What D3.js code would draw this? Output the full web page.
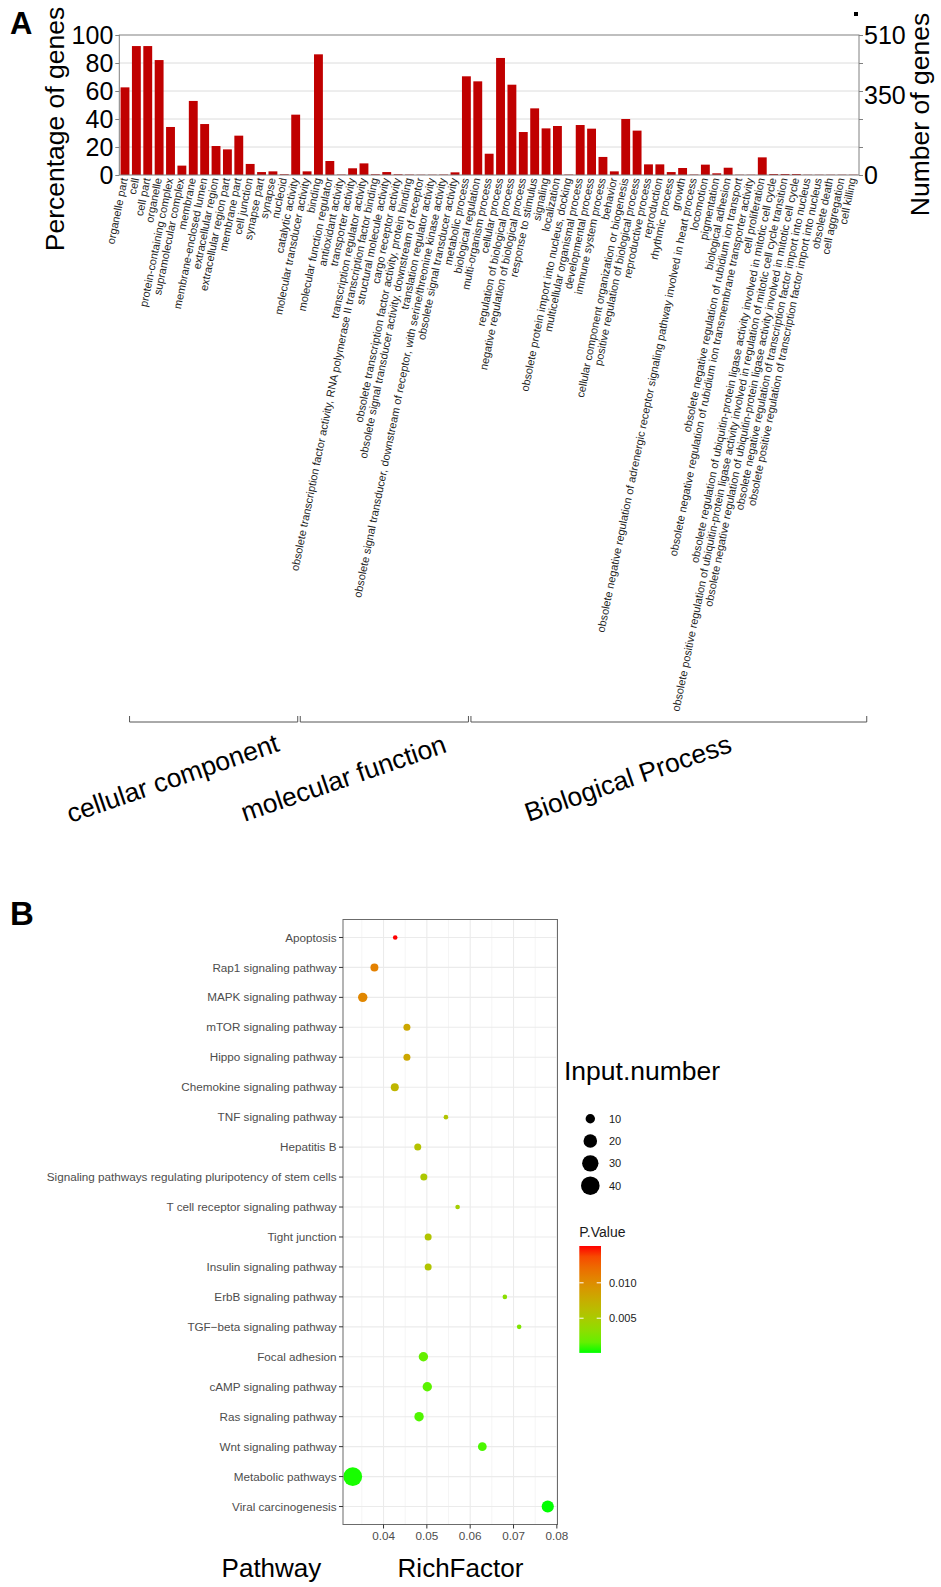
<!DOCTYPE html>
<html><head><meta charset="utf-8">
<script src="https://cdn.jsdelivr.net/npm/d3@7"></script>
<style>body{margin:0;background:#fff;} svg{display:block;font-family:"Liberation Sans",Arial,Helvetica,sans-serif;}</style>
</head><body><svg id="chart" width="941" height="1587"></svg>
<script>
// ---------- Panel A data ----------
const goTerms = [
"organelle part","cell","cell part","organelle","protein-containing complex","supramolecular complex","membrane","membrane-enclosed lumen","extracellular region","extracellular region part","membrane part","cell junction","synapse part","synapse","nucleoid",
"catalytic activity","molecular transducer activity","binding","molecular function regulator","antioxidant activity","transporter activity","transcription regulator activity","obsolete transcription factor activity, RNA polymerase II transcription factor binding","structural molecule activity","cargo receptor activity","obsolete transcription factor activity, protein binding","obsolete signal transducer activity, downstream of receptor","translation regulator activity","obsolete signal transducer, downstream of receptor, with serine/threonine kinase activity","obsolete signal transducer activity",
"metabolic process","biological regulation","multi-organism process","cellular process","regulation of biological process","negative regulation of biological process","response to stimulus","signaling","localization","obsolete protein import into nucleus, docking","multicellular organismal process","developmental process","immune system process","behavior","cellular component organization or biogenesis","positive regulation of biological process","reproductive process","reproduction","rhythmic process","growth","obsolete negative regulation of adrenergic receptor signaling pathway involved in heart process","locomotion","pigmentation","biological adhesion","obsolete negative regulation of rubidium ion transport","obsolete negative regulation of rubidium ion transmembrane transporter activity","cell proliferation","obsolete regulation of ubiquitin-protein ligase activity involved in mitotic cell cycle","obsolete positive regulation of ubiquitin-protein ligase activity involved in regulation of mitotic cell cycle transition","obsolete negative regulation of ubiquitin-protein ligase activity involved in mitotic cell cycle","obsolete negative regulation of transcription factor import into nucleus","obsolete positive regulation of transcription factor import into nucleus","obsolete death","cell aggregation","cell killing"
];
const goPercent = [
62.6,92.1,92.1,82.1,34.3,6.7,52.9,36.4,20.7,18.3,28.1,7.9,2.1,2.6,0.5,
43.1,2.6,86.2,10.0,0.3,4.8,8.3,0.5,2.1,0.5,0.3,0.2,0.2,0.3,1.9,
70.5,66.9,15.2,83.6,64.5,30.7,47.6,33.3,35.0,0.3,35.7,33.1,12.9,2.6,40.0,31.7,7.6,7.6,2.1,5.0,0.3,7.4,1.2,5.2,0.2,0.2,12.6,0.7,0.7,0.7,0.2,0.2,0.2,0.2,0.2
];
const goGroups = ["cellular component","molecular function","Biological Process"];
const goGroupSizes = [15,15,35];
const percentTicks = [0,20,40,60,80,100];
const geneTicks = [0,350,510];
const geneTickPercent = [0,56.6,100];

// ---------- Panel B data ----------
const pathways = ["Apoptosis","Rap1 signaling pathway","MAPK signaling pathway","mTOR signaling pathway","Hippo signaling pathway","Chemokine signaling pathway","TNF signaling pathway","Hepatitis B","Signaling pathways regulating pluripotency of stem cells","T cell receptor signaling pathway","Tight junction","Insulin signaling pathway","ErbB signaling pathway","TGF\u2212beta signaling pathway","Focal adhesion","cAMP signaling pathway","Ras signaling pathway","Wnt signaling pathway","Metabolic pathways","Viral carcinogenesis"];
const richFactor = [0.0427,0.0379,0.0352,0.0454,0.0454,0.0426,0.0544,0.0479,0.0493,0.0571,0.0503,0.0503,0.0680,0.0713,0.0492,0.0501,0.0482,0.0628,0.0329,0.0779];
const inputNumber = [6,8,10,7,7,8,6,7,7,6,7,7,6,6,10,10,10,9,41,16];
const pValue = [0.0152,0.0108,0.0104,0.0080,0.0080,0.0068,0.0056,0.0058,0.0052,0.0046,0.0056,0.0056,0.0032,0.0026,0.0016,0.0013,0.0010,0.0009,0.0002,0.0001];
const richTicks = [0.04,0.05,0.06,0.07,0.08];
const sizeBreaks = [10,20,30,40];
const pBreaks = [0.005,0.010];

const svg = d3.select("#chart");
svg.append("rect").attr("width",941).attr("height",1587).attr("fill","#fff");

// ================= PANEL A =================
const A = {left:119.3, right:859, top:35, bottom:175};
const xA = d3.scaleBand().domain(goTerms).range([A.left, A.right]).paddingInner(0.22).paddingOuter(0.11);
const yA = d3.scaleLinear().domain([0,100]).range([A.bottom, A.top]);
const yGenes = d3.scaleLinear().domain(geneTicks).range(geneTickPercent.map(yA));
const gA = svg.append("g");

gA.selectAll("line.grid").data(percentTicks.filter(t=>t>0&&t<100)).join("line")
  .attr("x1",A.left).attr("x2",A.right).attr("y1",d=>yA(d)).attr("y2",d=>yA(d))
  .attr("stroke","#dcdcdc").attr("stroke-width",1);

gA.selectAll("rect.bar").data(goTerms).join("rect")
  .attr("x",d=>xA(d)).attr("width",xA.bandwidth())
  .attr("y",(d,i)=>yA(goPercent[i])).attr("height",(d,i)=>yA(0)-yA(goPercent[i]))
  .attr("fill","#c00000");

gA.append("rect").attr("x",A.left).attr("y",A.top).attr("width",A.right-A.left).attr("height",A.bottom-A.top)
  .attr("fill","none").attr("stroke","#808080").attr("stroke-width",1);

const axL = gA.append("g").attr("transform",`translate(${A.left},0)`)
  .call(d3.axisLeft(yA).tickValues(percentTicks).tickSize(4).tickPadding(2));
axL.select(".domain").remove();
axL.selectAll("line").attr("stroke","#808080");
axL.selectAll("text").attr("font-size",25).attr("fill","#000").attr("font-family","Liberation Sans, Arial, sans-serif");

const axRm = gA.append("g").attr("transform",`translate(${A.right},0)`)
  .call(d3.axisRight(yA).tickValues(percentTicks).tickSize(4).tickFormat(""));
axRm.select(".domain").remove();
axRm.selectAll("line").attr("stroke","#808080");
const axR = gA.append("g").attr("transform",`translate(${A.right},0)`)
  .call(d3.axisRight(yGenes).tickValues(geneTicks).tickSize(0).tickPadding(5));
axR.select(".domain").remove();
axR.selectAll("text").attr("font-size",25).attr("fill","#000").attr("font-family","Liberation Sans, Arial, sans-serif");

gA.selectAll("text.cat").data(goTerms).join("text")
  .attr("transform",d=>`translate(${xA(d)+xA.bandwidth()/2-1},178) rotate(-78.5)`)
  .attr("text-anchor","end").attr("dy","0.35em")
  .attr("font-size",11).attr("fill","#222").text(d=>d);

// brackets & group labels
let start = 0;
goGroups.forEach((g,gi)=>{
  const first = goTerms[start], last = goTerms[start+goGroupSizes[gi]-1];
  const x0 = xA(first)+9, x1 = xA(last)+xA.bandwidth()+9;
  gA.append("path").attr("d",`M${x0},716V722H${x1}V716`).attr("fill","none").attr("stroke","#555").attr("stroke-width",1);
  gA.append("text").attr("transform",`translate(${(x0+x1)/2-41},778) rotate(-19)`)
    .attr("text-anchor","middle").attr("dy","0.35em").attr("font-size",26.5).attr("fill","#000").text(g);
  start += goGroupSizes[gi];
});

gA.append("text").attr("transform","translate(64,129) rotate(-90)").attr("text-anchor","middle")
  .attr("font-size",26.5).attr("fill","#000").text("Percentage of genes");
gA.append("text").attr("transform","translate(929,114.5) rotate(-90)").attr("text-anchor","middle")
  .attr("font-size",26.5).attr("fill","#000").text("Number of genes");
gA.append("rect").attr("x",854).attr("y",12).attr("width",4).attr("height",4).attr("fill","#000");
svg.append("text").attr("x",10).attr("y",34).attr("font-size",31).attr("font-weight","bold").text("A");

// ================= PANEL B =================
const B = {left:343, right:557.5, top:919.5, bottom:1524.5};
const ext = d3.extent(richFactor), pad = (ext[1]-ext[0])*0.05;
const xB = d3.scaleLinear().domain([ext[0]-pad, ext[1]+pad]).range([B.left, B.right]);
const yB = d3.scalePoint().domain(pathways).range([B.top, B.bottom]).padding(0.6);
const rNorm = d3.scaleLinear().domain(d3.extent(inputNumber)).range([0,1]);
const rB = d3.scaleSqrt().domain([0,1]).range([2.3,9.4]);
const radius = n => rB(rNorm(n));
const pExt = d3.extent(pValue);
const colorB = d3.scaleLinear().domain(pExt).range(["#00ff00","#ff0000"]).interpolate(d3.interpolateLab);
const gB = svg.append("g");
const dom = xB.domain();
const minors = richTicks.map(t=>t-0.005).filter(t=>t>dom[0]&&t<dom[1]);

gB.selectAll("line.minor").data(minors).join("line")
  .attr("x1",d=>xB(d)).attr("x2",d=>xB(d)).attr("y1",B.top).attr("y2",B.bottom)
  .attr("stroke","#f2f2f2").attr("stroke-width",0.8);
gB.selectAll("line.vmaj").data(richTicks.filter(t=>t<dom[1])).join("line")
  .attr("x1",d=>xB(d)).attr("x2",d=>xB(d)).attr("y1",B.top).attr("y2",B.bottom)
  .attr("stroke","#ebebeb").attr("stroke-width",1.1);
gB.selectAll("line.hmaj").data(pathways).join("line")
  .attr("x1",B.left).attr("x2",B.right).attr("y1",d=>yB(d)).attr("y2",d=>yB(d))
  .attr("stroke","#ebebeb").attr("stroke-width",1.1);

gB.selectAll("circle.pt").data(pathways).join("circle")
  .attr("cx",(d,i)=>xB(richFactor[i])).attr("cy",d=>yB(d))
  .attr("r",(d,i)=>radius(inputNumber[i])).attr("fill",(d,i)=>colorB(pValue[i]));

gB.append("rect").attr("x",B.left).attr("y",B.top).attr("width",B.right-B.left).attr("height",B.bottom-B.top)
  .attr("fill","none").attr("stroke","#6b6b6b").attr("stroke-width",1);

// y axis
gB.selectAll("line.ytick").data(pathways).join("line")
  .attr("x1",B.left-4).attr("x2",B.left).attr("y1",d=>yB(d)).attr("y2",d=>yB(d)).attr("stroke","#333");
gB.selectAll("text.ylab").data(pathways).join("text")
  .attr("x",B.left-6.5).attr("y",d=>yB(d)).attr("dy","0.35em").attr("text-anchor","end")
  .attr("font-size",11.7).attr("fill","#4d4d4d").text(d=>d);
// x axis
gB.selectAll("line.xtick").data(richTicks).join("line")
  .attr("x1",d=>xB(d)).attr("x2",d=>xB(d)).attr("y1",B.bottom).attr("y2",B.bottom+4).attr("stroke","#333");
gB.selectAll("text.xlab").data(richTicks).join("text")
  .attr("x",d=>xB(d)).attr("y",B.bottom+15).attr("text-anchor","middle")
  .attr("font-size",11.7).attr("fill","#4d4d4d").text(d=>d3.format(".2f")(d));

gB.append("text").attr("x",221.6).attr("y",1577).attr("font-size",26).attr("fill","#000").text("Pathway");
gB.append("text").attr("x",397.6).attr("y",1577).attr("font-size",26).attr("fill","#000").text("RichFactor");
svg.append("text").attr("x",10).attr("y",925).attr("font-size",33).attr("font-weight","bold").text("B");

// legend: size
gB.append("text").attr("x",564).attr("y",1080).attr("font-size",26.5).attr("fill","#000").text("Input.number");
sizeBreaks.forEach((b,i)=>{
  const cy = 1118.7 + i*22.33;
  gB.append("circle").attr("cx",590.3).attr("cy",cy).attr("r",radius(b)).attr("fill","#000");
  gB.append("text").attr("x",609).attr("y",cy).attr("dy","0.35em").attr("font-size",11).attr("fill","#1a1a1a").text(b);
});
// legend: colour
gB.append("text").attr("x",579.3).attr("y",1236.7).attr("font-size",14).attr("fill","#1a1a1a").text("P.Value");
const cbTop = 1246, cbH = (pExt[1]-pExt[0])*(35.4/0.005);
const cScale = d3.scaleLinear().domain(pExt).range([cbTop+cbH, cbTop]);
const grad = svg.append("defs").append("linearGradient").attr("id","pgrad")
  .attr("x1",0).attr("y1",1).attr("x2",0).attr("y2",0);
d3.range(0,1.0001,0.1).forEach(t=>{
  grad.append("stop").attr("offset",t).attr("stop-color",colorB(pExt[0]+t*(pExt[1]-pExt[0])));
});
gB.append("rect").attr("x",579.3).attr("y",cbTop).attr("width",21.7).attr("height",cbH).attr("fill","url(#pgrad)");
pBreaks.forEach(b=>{
  const y = cScale(b);
  gB.append("line").attr("x1",579.3).attr("x2",583.6).attr("y1",y).attr("y2",y).attr("stroke","#fff");
  gB.append("line").attr("x1",596.7).attr("x2",601).attr("y1",y).attr("y2",y).attr("stroke","#fff");
  gB.append("text").attr("x",609).attr("y",y).attr("dy","0.35em").attr("font-size",11).attr("fill","#1a1a1a").text(d3.format(".3f")(b));
});
</script></body></html>
